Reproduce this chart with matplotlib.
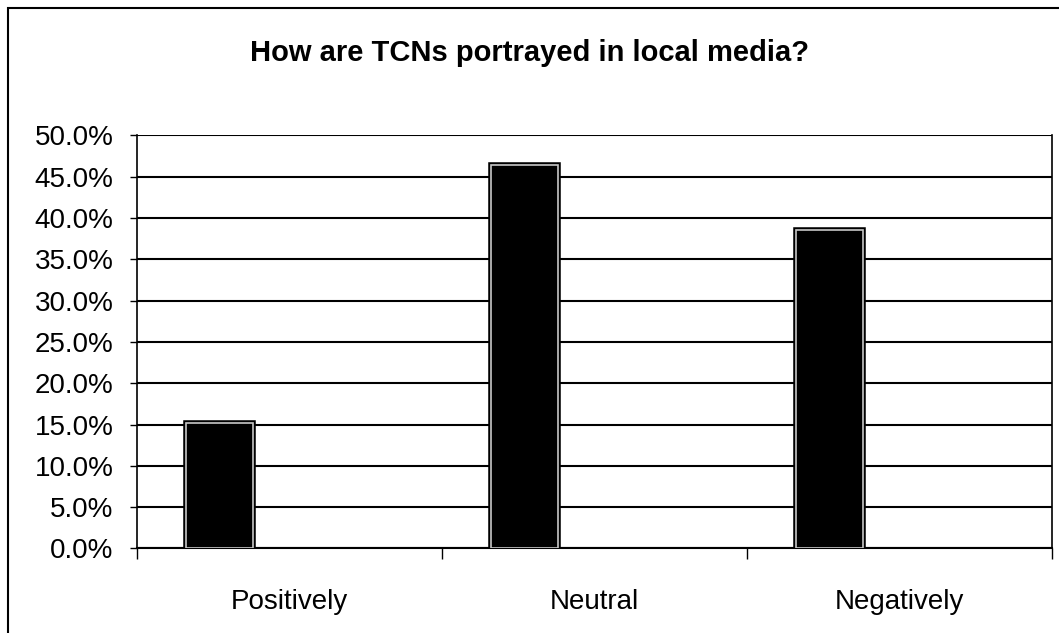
import matplotlib.pyplot as plt
from matplotlib.patches import Rectangle
from matplotlib.ticker import FuncFormatter

# Data
categories = ["Positively", "Neutral", "Negatively"]
shares = [15.2, 46.4, 38.6]
y_ticks = [0, 5, 10, 15, 20, 25, 30, 35, 40, 45, 50]

plt.rcParams['font.family'] = ['Liberation Sans', 'DejaVu Sans']

fig = plt.figure(figsize=(10.59, 6.33), dpi=100)
ax = fig.add_axes([0.1294, 0.1335, 0.8640, 0.6525])

# Outer chart border (left and top visible in the scan)
fig.patches.append(Rectangle((8 / 1059, -0.01), 1.05, 1 - 8 / 633 + 0.01,
                             transform=fig.transFigure, fill=False,
                             edgecolor='black', linewidth=1.5))

# Bars sit left of the category centre (Excel layout)
xpos = [i - 0.23 for i in range(len(categories))]
ax.bar(xpos, shares, width=0.22, color='black', edgecolor='black', linewidth=4, zorder=3)
ax.bar(xpos, shares, width=0.22, color='black', edgecolor='#c8c8c8', linewidth=1.2, zorder=4)

ax.set_xlim(-0.5, 2.5)
ax.set_ylim(0, 50)
ax.set_yticks(y_ticks)
ax.yaxis.set_major_formatter(FuncFormatter(lambda v, p: f"{v:.1f}%"))
ax.grid(axis='y', color='black', linewidth=1.5, zorder=1)
ax.set_axisbelow(True)

ax.set_xticks(range(len(categories)))
ax.set_xticklabels(categories)
ax.set_xticks([-0.5, 0.5, 1.5, 2.5], minor=True)
ax.tick_params(axis='x', which='major', length=0, pad=29, labelsize=20)
ax.tick_params(axis='x', which='minor', length=8, width=1, direction='out')
ax.tick_params(axis='y', length=5, width=1, pad=12, labelsize=20)

for side in ['left', 'bottom', 'right', 'top']:
    ax.spines[side].set_color('black')
ax.spines['left'].set_linewidth(1.2)
ax.spines['bottom'].set_linewidth(1.5)
ax.spines['right'].set_linewidth(1.2)
ax.spines['top'].set_visible(False)

fig.text(0.5, 1 - 53 / 633, "How are TCNs portrayed in local media?",
         ha='center', va='center', fontsize=21, fontweight='bold')

plt.savefig("out.png", dpi=100)
